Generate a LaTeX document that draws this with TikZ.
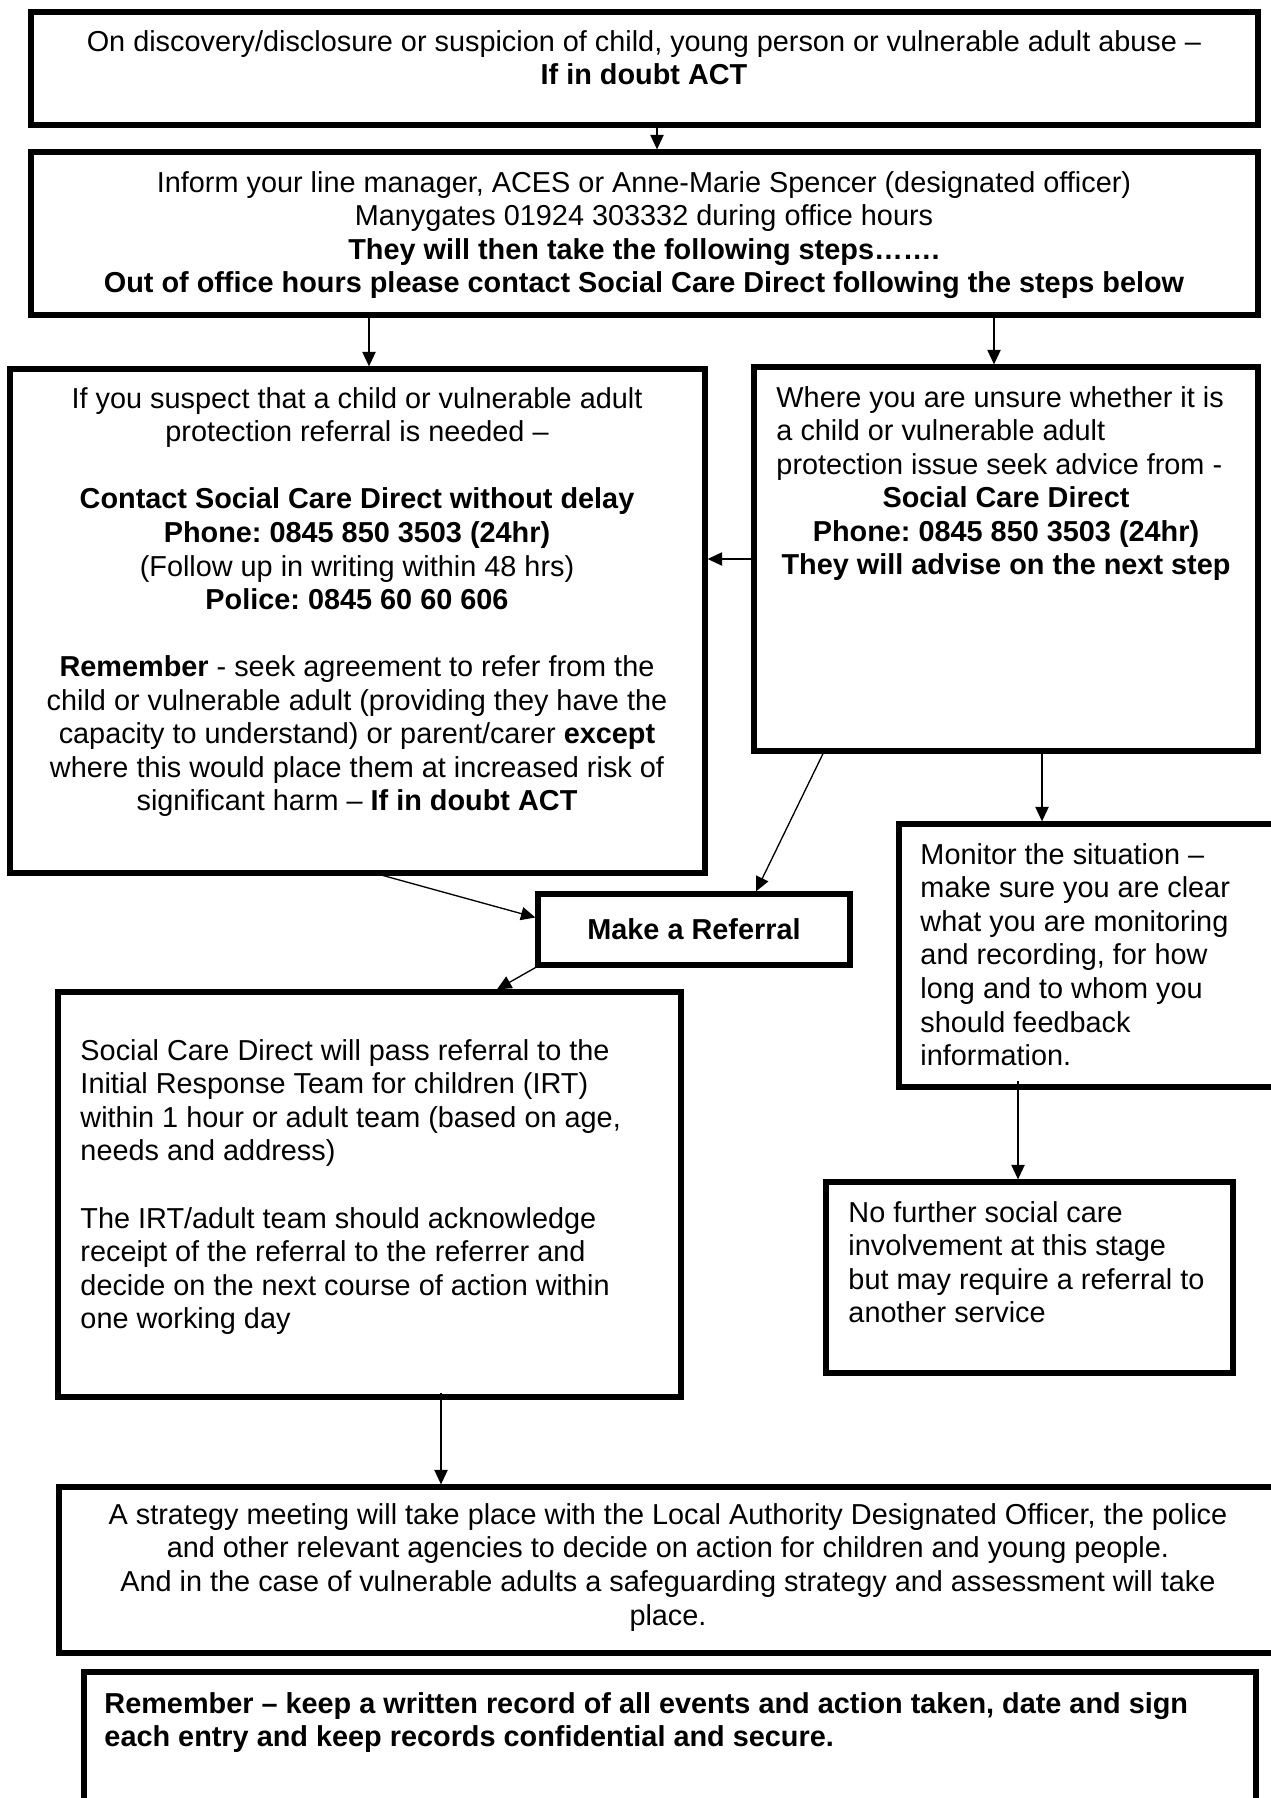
\documentclass[tikz,border=0pt]{standalone}
\usepackage{fontspec}
\setmainfont{Liberation Sans}
\usetikzlibrary{arrows.meta,calc,fit}
\frenchspacing
\begin{document}
\frenchspacing
\begin{tikzpicture}[x=0.416pt,y=-0.416pt,
  box/.style={draw,line width=2.2pt,inner sep=0pt,rectangle},
  txt/.style={inner sep=0pt,font=\fontsize{12}{13.95}\selectfont},
  arr/.style={line width=0.55pt,-{Triangle[length=6pt,width=5.5pt]}}]
\useasboundingbox (0,0) rectangle (1270,1798);
\fill[white] (0,0) rectangle (1270,1798);
% boxes
\node[box,fit={(31,12) (1258,125)}] (b1) {};
\node[box,fit={(31,152) (1258,315)}] (b2) {};
\node[box,fit={(10,369) (705,873)}] (b3) {};
\node[box,fit={(754,367) (1258,751)}] (b4) {};
\node[box,fit={(538,894) (850,965)}] (mr) {};
\node[box,fit={(899,824) (1276,1087)}] (mon) {};
\node[box,fit={(58,992) (681,1397)}] (b5) {};
\node[box,fit={(826,1182) (1233,1373)}] (nf) {};
\node[box,fit={(59,1487) (1277,1653)}] (b6) {};
\node[box,fit={(84,1672) (1256,1815)}] (b7) {};
% texts
\node[txt,align=center,anchor=north] (t1) at (644,30)
  {On discovery/disclosure or suspicion of child, young person or vulnerable adult abuse –\\
   \bfseries If in doubt ACT};
\node[txt,align=center,anchor=north] (t2) at (644,171)
  {Inform your line manager, ACES or Anne-Marie Spencer (designated officer)\\
   Manygates 01924 303332 during office hours\\
   \bfseries They will then take the following steps…….\\
   \bfseries Out of office hours please contact Social Care Direct following the steps below};
\node[txt,align=center,anchor=north] (t3) at (357,387)
  {If you suspect that a child or vulnerable adult\\
   protection referral is needed –\\[13.95pt]
   \bfseries Contact Social Care Direct without delay\\
   \bfseries Phone: 0845 850 3503 (24hr)\\
   (Follow up in writing within 48 hrs)\\
   \bfseries Police: 0845 60 60 606\\[13.95pt]
   \textbf{Remember} - seek agreement to refer from the\\
   child or vulnerable adult (providing they have the\\
   capacity to understand) or parent/carer \textbf{except}\\
   where this would place them at increased risk of\\
   significant harm – \textbf{If in doubt ACT}};
\node[txt,align=left,anchor=north west] (t4a) at (776,386)
  {Where you are unsure whether it is\\
   a child or vulnerable adult\\
   protection issue seek advice from -};
\node[txt,align=center,anchor=north,font=\fontsize{12}{13.95}\selectfont\bfseries] (t4b) at (1006,486.5)
  {Social Care Direct\\
   Phone: 0845 850 3503 (24hr)\\
   They will advise on the next step};
\node[txt,font=\fontsize{12}{13.95}\selectfont\bfseries] (tmr) at (mr.center) {Make a Referral};
\node[txt,align=left,anchor=north west] (tmon) at (920,843)
  {Monitor the situation –\\
   make sure you are clear\\
   what you are monitoring\\
   and recording, for how\\
   long and to whom you\\
   should feedback\\
   information.};
\node[txt,align=left,anchor=north west] (t5) at (80,1039)
  {Social Care Direct will pass referral to the\\
   Initial Response Team for children (IRT)\\
   within 1 hour or adult team (based on age,\\
   needs and address)\\[13.95pt]
   The IRT/adult team should acknowledge\\
   receipt of the referral to the referrer and\\
   decide on the next course of action within\\
   one working day};
\node[txt,align=left,anchor=north west] (tnf) at (848,1201)
  {No further social care\\
   involvement at this stage\\
   but may require a referral to\\
   another service};
\node[txt,align=center,anchor=north] (t6) at (668,1503)
  {A strategy meeting will take place with the Local Authority Designated Officer, the police\\
   and other relevant agencies to decide on action for children and young people.\\
   And in the case of vulnerable adults a safeguarding strategy and assessment will take\\
   place.};
\node[txt,align=left,anchor=north west,font=\fontsize{12}{13.95}\selectfont\bfseries] (t7) at (104,1692)
  {Remember – keep a written record of all events and action taken, date and sign\\
   each entry and keep records confidential and secure.};
% arrow x positions
\coordinate (ax1) at (657,0);
\coordinate (ax2) at (369,0);
\coordinate (ax3) at (994,0);
\coordinate (ax4) at (823,0);
\coordinate (ax5) at (756,0);
\coordinate (ax6) at (1042,0);
\coordinate (ax7) at (497,0);
\coordinate (ax8) at (1018,0);
\coordinate (ax9) at (441,0);
% connectors
\draw[arr] (b1.south -| ax1) -- (b2.north -| ax1);
\draw[arr] (b2.south -| ax2) -- (b3.north -| ax2);
\draw[arr] (b2.south -| ax3) -- (b4.north -| ax3);
\draw[arr] (b4.west) -- (b4.west -| b3.east);
\draw[arr] (b4.south -| ax4) -- (mr.north -| ax5);
\draw[arr] (b4.south -| ax6) -- (mon.north -| ax6);
\draw[arr] ($(b3.south -| ax2)+(0,-4)$) -- ($(mr.west)+(0,-12)$);
\draw[arr] (mr.south west) -- (b5.north -| ax7);
\draw[arr] ($(mon.south -| ax8)+(0,-9)$) -- (nf.north -| ax8);
\draw[arr] ($(b5.south -| ax9)+(0,-7)$) -- (b6.north -| ax9);
\end{tikzpicture}
\end{document}
